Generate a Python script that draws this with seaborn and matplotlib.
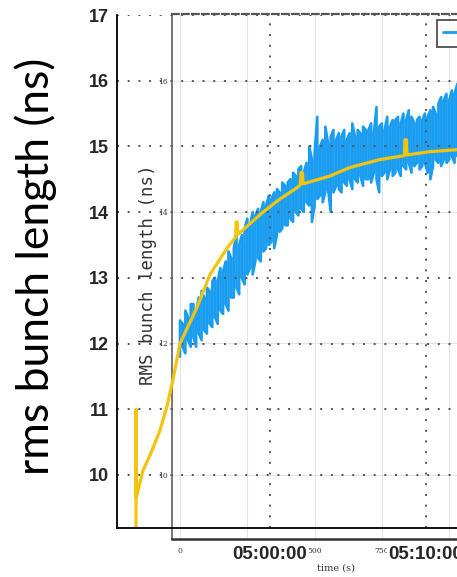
import matplotlib
matplotlib.use("Agg")
import matplotlib.pyplot as plt
import pandas as pd
import seaborn as sns

# Simulated rms bunch length, minutes relative to 05:00:00
sim_time_min = [-8.59, -8.585, -8.58, -8.14, -7.69, -7.05, -6.60, -6.22, -5.77,
                -4.68, -3.85, -2.76, -2.20, -2.17, -2.10, -2.06, -0.45, 0.64,
                1.73, 1.95, 1.98, 2.08, 2.12, 3.85, 5.13, 7.05, 8.62, 8.65,
                8.75, 8.78, 10.26, 11.99, 14.74]
sim_rms_ns = [9.0, 11.0, 9.65, 10.07, 10.3, 10.68, 11.05, 11.45, 12.0,
              12.55, 13.05, 13.45, 13.62, 13.85, 13.85, 13.66, 14.0, 14.2,
              14.37, 14.42, 14.6, 14.6, 14.43, 14.55, 14.68, 14.8, 14.86, 15.1,
              15.1, 14.87, 14.92, 14.95, 15.0]

# Measured RMS bunch length in 10 s bins (bin start, min and max within bin)
meas_time_s = [0, 10, 20, 30, 40, 50, 60, 70, 80, 90,
               100, 110, 120, 130, 140, 150, 160, 170, 180, 190,
               200, 210, 220, 230, 240, 250, 260, 270, 280, 290,
               300, 310, 320, 330, 340, 350, 360, 370, 380, 390,
               400, 410, 420, 430, 440, 450, 460, 470, 480, 490,
               500, 510, 520, 530, 540, 550, 560, 570, 580, 590,
               600, 610, 620, 630, 640, 650, 660, 670, 680, 690,
               700, 710, 720, 730, 740, 750, 760, 770, 780, 790,
               800, 810, 820, 830, 840, 850, 860, 870, 880, 890,
               900, 910, 920, 930, 940, 950, 960, 970, 980, 990,
               1000, 1010, 1020, 1030]
meas_min_ns = [11.8, 11.95, 11.85, 12.05, 11.95, 12.1, 11.95, 12.15, 12.05, 12.2,
               12.15, 12.3, 12.25, 12.4, 12.3, 12.5, 12.45, 12.6, 12.5, 12.7,
               12.7, 12.85, 12.75, 13.0, 12.9, 13.05, 13.15, 13.05, 13.25, 13.3,
               13.25, 13.4, 13.45, 13.5, 13.55, 13.45, 13.65, 13.7, 13.75, 13.8,
               13.8, 13.9, 13.85, 14.0, 13.95, 14.05, 14.0, 14.15, 14.1, 13.85,
               14.1, 14.2, 14.25, 14.15, 14.3, 14.35, 14.0, 14.3, 14.4, 14.35,
               14.3, 14.45, 14.4, 14.5, 14.35, 14.5, 14.45, 14.55, 14.4, 14.5,
               14.5, 14.45, 14.6, 14.5, 14.3, 14.55, 14.6, 14.5, 14.65, 14.55,
               14.6, 14.65, 14.55, 14.7, 14.65, 14.75, 14.6, 14.7, 14.75, 14.65,
               14.7, 14.75, 14.6, 14.5, 14.7, 14.8, 14.75, 14.7, 14.8, 14.75,
               14.8, 14.85, 14.75, 14.85]
meas_max_ns = [12.35, 12.3, 12.5, 12.4, 12.6, 12.6, 12.5, 12.7, 12.8, 12.7,
               12.85, 12.8, 12.95, 13.0, 12.95, 13.15, 13.1, 13.25, 13.4, 13.3,
               13.45, 13.7, 13.5, 13.65, 13.75, 13.9, 13.8, 14.0, 13.95, 14.05,
               14.0, 14.15, 14.1, 14.25, 14.2, 14.3, 14.35, 14.3, 14.45, 14.4,
               14.45, 14.5, 14.6, 14.55, 14.65, 14.7, 14.6, 14.75, 15.0, 14.8,
               14.9, 15.45, 15.0, 15.1, 15.3, 15.05, 15.15, 15.25, 15.1, 15.2,
               15.15, 15.25, 15.1, 15.2, 15.35, 15.15, 15.25, 15.2, 15.3, 15.25,
               15.25, 15.35, 15.2, 15.6, 15.3, 15.35, 15.25, 15.45, 15.3, 15.4,
               15.4, 15.45, 15.35, 15.5, 15.4, 15.55, 15.45, 15.35, 15.4, 15.45,
               15.4, 15.5, 15.45, 15.55, 15.6, 15.5, 15.65, 15.75, 15.7, 15.8,
               15.7, 15.85, 15.8, 15.95]

outer_xticks_min = [0, 10]
outer_xtick_labels = ["05:00:00", "05:10:00"]
outer_yticks = [10, 11, 12, 13, 14, 15, 16, 17]
outer_yminor = [9.5, 10.5, 11.5, 12.5, 13.5, 14.5, 15.5, 16.5]
inner_xticks_s = [0, 250, 500, 750, 1000]
# labels at 250 s and 1000 s sit under the clock-time labels
inner_xtick_labels = ["0", "", "500", "750", ""]
inner_yticks = [10, 12, 14, 16]

sns.set_style("white")
plt.rcParams["font.family"] = ["DejaVu Sans"]

W, H = 457, 577
fig = plt.figure(figsize=(W / 100, H / 100), dpi=100)
fig.patch.set_facecolor("white")


def px_rect(x0, y_top, x1, y_bot):
    return [x0 / W, 1 - y_bot / H, (x1 - x0) / W, (y_bot - y_top) / H]


tick_font = ["Liberation Sans", "DejaVu Sans"]

# ---- inner panel: measured data in seconds ----
ax_in = fig.add_axes(px_rect(172, 14, 500, 539))
ax_in.set_zorder(1)
ax_in.patch.set_alpha(0)

# min/max trace: each bin is a vertical stroke from its min to its max
path_t, path_v = [], []
for i, (t, lo, hi) in enumerate(zip(meas_time_s, meas_min_ns, meas_max_ns)):
    pair = (lo, hi) if i % 2 == 0 else (hi, lo)
    path_t += [t, t]
    path_v += list(pair)
meas_df = pd.DataFrame({"t": path_t, "rms": path_v})
sns.lineplot(data=meas_df, x="t", y="rms", ax=ax_in, color="#1a9df0",
             lw=1.9, estimator=None, sort=False, label="Measured")
ax_in.set_xlim(-29.7, 1188.7)
ax_in.set_ylim(9.024, 17.015)
ax_in.set_xticks(inner_xticks_s)
ax_in.set_xticklabels(inner_xtick_labels)
ax_in.set_yticks(inner_yticks)
ax_in.tick_params(axis="both", length=2, width=0.8, color="#444",
                  labelsize=5.5, labelcolor="#333", pad=1.0)
ax_in.tick_params(axis="x", pad=4)
for lab in ax_in.get_xticklabels() + ax_in.get_yticklabels():
    lab.set_family(["DejaVu Serif"])
ax_in.grid(True, color="#e4e4e4", lw=0.8)
ax_in.spines["right"].set_visible(False)
ax_in.spines["left"].set_color("#777")
ax_in.spines["left"].set_linewidth(1.4)
ax_in.spines["bottom"].set_color("#333")
ax_in.spines["bottom"].set_linewidth(1.8)
ax_in.spines["top"].set_color("#555")
ax_in.spines["top"].set_linewidth(1.6)
ax_in.spines["top"].set_linestyle((0, (3, 1.5)))
ax_in.set_xlabel("time (s)", fontsize=7, color="#333", labelpad=6,
                 family=["DejaVu Serif"])
ax_in.set_ylabel("")
fig.text(148 / W, 1 - 275 / H, "RMS bunch length (ns)", rotation=90,
         ha="center", va="center", fontsize=12.5, color="#333",
         family=["DejaVu Sans Mono"])
leg = ax_in.legend(loc="upper left", bbox_to_anchor=(437 / W, 1 - 20 / H),
                   bbox_transform=fig.transFigure, fontsize=10,
                   frameon=True, fancybox=False, borderpad=0.45,
                   handlelength=1.6, borderaxespad=0)
leg.get_frame().set_edgecolor("#222")
leg.get_frame().set_linewidth(1.3)
for h in leg.get_lines():
    h.set_linewidth(2)

# ---- outer panel: simulation against clock time ----
ax = fig.add_axes(px_rect(117, 15, 500, 528))
ax.set_zorder(2)
ax.patch.set_alpha(0)
sim_df = pd.DataFrame({"t": sim_time_min, "rms": sim_rms_ns})
sns.lineplot(data=sim_df, x="t", y="rms", ax=ax, color="#f2c40f", lw=2.3,
             estimator=None, sort=False)
ax.set_xlim(-9.808, 14.744)
ax.set_ylim(9.192, 17.0)
ax.set_xticks(outer_xticks_min)
ax.set_xticklabels(outer_xtick_labels)
ax.set_yticks(outer_yticks)
ax.set_yticks(outer_yminor, minor=True)
ax.grid(True, which="major", color="#555", lw=1.4, ls=(0, (1, 4.5)))
ax.tick_params(axis="both", which="major", direction="inout", length=6,
               width=1.1, color="black", labelsize=13)
ax.tick_params(axis="y", which="minor", direction="inout", length=5,
               width=1.0, color="black")
ax.tick_params(axis="x", pad=10, labelsize=13.5)
ax.tick_params(axis="y", pad=3)
for lab in ax.get_xticklabels() + ax.get_yticklabels():
    lab.set_family(tick_font)
    lab.set_fontweight("bold")
for lab in ax.get_xticklabels():
    lab.set_bbox(dict(facecolor="white", edgecolor="none", pad=1))
for side in ["top", "right"]:
    ax.spines[side].set_visible(False)
for side in ["left", "bottom"]:
    ax.spines[side].set_color("black")
    ax.spines[side].set_linewidth(1.3)
ax.set_xlabel("")
ax.set_ylabel("")

fig.text(36 / W, 1 - 266 / H, "rms bunch length (ns)", rotation=90,
         ha="center", va="center", fontsize=32, family=["Lato", "DejaVu Sans"],
         fontweight="normal", color="black")

fig.savefig("out.png", dpi=100, facecolor="white")
